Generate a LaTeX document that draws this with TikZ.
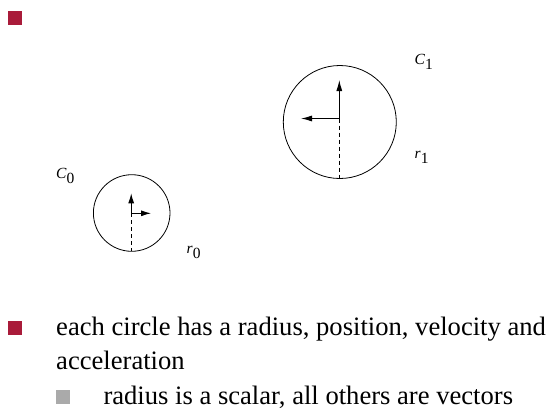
\documentclass[tikz,border=0pt]{standalone}
\usepackage{fontspec}
\setmainfont{Liberation Serif}
\usetikzlibrary{arrows.meta}
\definecolor{bulletred}{HTML}{A91B3A}
\definecolor{bulletgray}{HTML}{AAAAAA}
\tikzset{
  circ/.style={draw, line width=0.8pt, circle, inner sep=0pt},
  vec/.style={line width=1pt, -{Latex[length=11pt,width=6pt]}},
  smallvec/.style={line width=1pt, -{Latex[length=10pt,width=6pt]}},
  rad/.style={line width=0.8pt, dash pattern=on 4pt off 3pt},
  lbl/.style={inner sep=0pt, anchor=base west, font=\fontsize{15.5}{18}\selectfont},
  bul/.style={inner sep=0pt, minimum width=14pt, minimum height=13.5pt},
  txt/.style={inner sep=0pt, anchor=base west, font=\fontsize{26.6}{31}\selectfont}
}
\begin{document}
\begin{tikzpicture}[x=1pt,y=-1pt]
\useasboundingbox (0,0) rectangle (548,408);
% top bullet
\node[bul, fill=bulletred] (b0) at (15,18) {};
% big circle C1
\node[circ, minimum size=113pt] (c1) at (339.8,122) {};
\coordinate (p1) at (339.3,118.5);
\coordinate (v1) at (339.3,80);
\coordinate (a1) at (301,118.5);
\coordinate (d1) at (339.3,178.5);
\draw[vec] (p1) -- (v1);
\draw[vec] (p1) -- (a1);
\draw[rad] (p1) -- (d1);
\node[lbl] (lc1) at (414.5,64) {\textit{C}$_{\textrm{1}}$};
\node[lbl] (lr1) at (414.5,158) {\textit{r}$_{\textrm{1}}$};
% small circle C0
\node[circ, minimum size=76.6pt] (c0) at (131.7,213) {};
\coordinate (p0) at (131.2,213.3);
\coordinate (v0) at (131.2,193.3);
\coordinate (a0) at (151,213.3);
\coordinate (d0) at (131.2,251);
\draw[smallvec] (p0) -- (v0);
\draw[smallvec] (p0) -- (a0);
\draw[rad] (p0) -- (d0);
\node[lbl] (lc0) at (56,178) {\textit{C}$_{\textrm{0}}$};
\node[lbl] (lr0) at (186.5,253) {\textit{r}$_{\textrm{0}}$};
% bullet list
\node[bul, fill=bulletred] (b1) at (15,328) {};
\node[txt] (t1) at (56,335) {each circle has a radius, position, velocity and};
\node[txt] (t2) at (56,369) {acceleration};
\node[bul, fill=bulletgray] (b2) at (63,397) {};
\node[txt] (t3) at (103.3,404) {radius is a scalar, all others are vectors};
\end{tikzpicture}
\end{document}
